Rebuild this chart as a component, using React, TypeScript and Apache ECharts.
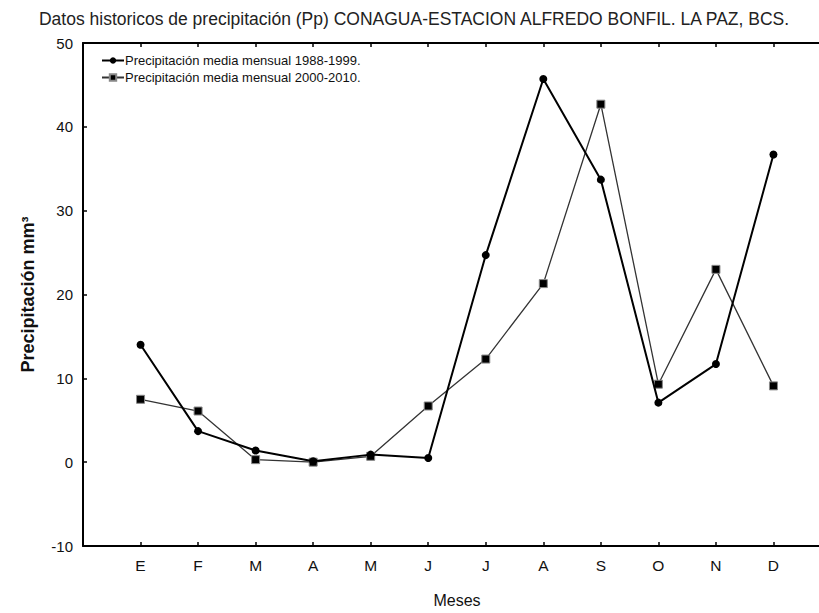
import React, { useEffect, useRef } from "react";
import * as echarts from "echarts";

const months = ["E", "F", "M", "A", "M", "J", "J", "A", "S", "O", "N", "D"];
const pp1988_1999 = [14.0, 3.7, 1.4, 0.1, 0.9, 0.5, 24.7, 45.7, 33.7, 7.1, 11.7, 36.7];
const pp2000_2010 = [7.5, 6.1, 0.3, 0.0, 0.7, 6.7, 12.3, 21.3, 42.7, 9.3, 23.0, 9.1];
const yTicks = { min: -10, max: 50, step: 10 };

const seriesNames = [
  "Precipitación media mensual 1988-1999.",
  "Precipitación media mensual 2000-2010.",
];

const FONT = "'Liberation Sans', Arial, sans-serif";

export default function App() {
  const ref = useRef<HTMLDivElement>(null);

  useEffect(() => {
    if (!ref.current) return;
    const chart = echarts.init(ref.current, null, { renderer: "svg" });

    const monthLabel = (v: number) => {
      const i = Math.round(v) - 1;
      return i >= 0 && i < months.length ? months[i] : "";
    };

    const commonX = {
      type: "value" as const,
      min: 0,
      max: months.length + 1,
      interval: 1,
      splitLine: { show: false },
      axisLine: { show: true, onZero: false, lineStyle: { color: "#000", width: 2 } },
      axisTick: { show: true, inside: true, length: 4, lineStyle: { color: "#000", width: 1.5 } },
    };

    chart.setOption({
      animation: false,
      backgroundColor: "#fff",
      title: {
        text: "Datos historicos de precipitación (Pp) CONAGUA-ESTACION ALFREDO BONFIL. LA PAZ, BCS.",
        left: 409,
        textAlign: "center",
        top: 5,
        textStyle: { fontFamily: FONT, fontSize: 17.5, fontWeight: "normal", color: "#222" },
      },
      legend: {
        orient: "vertical",
        left: 96,
        top: 49,
        itemWidth: 22,
        itemHeight: 8,
        itemGap: 4,
        data: seriesNames,
        textStyle: { fontFamily: FONT, fontSize: 13, color: "#111", padding: [0, 0, 0, -4] },
      },
      grid: {
        left: 83,
        top: 43,
        width: 748,
        height: 503,
        containLabel: false,
        outerBoundsMode: "none",
      },
      xAxis: [
        {
          ...commonX,
          position: "bottom",
          name: "Meses",
          nameLocation: "middle",
          nameGap: 46,
          nameTextStyle: { fontFamily: FONT, fontSize: 16, color: "#111" },
          axisLabel: {
            formatter: monthLabel,
            margin: 11,
            fontFamily: FONT,
            fontSize: 15.5,
            color: "#111",
          },
        },
        {
          ...commonX,
          position: "top",
          axisLabel: { show: false },
        },
      ],
      yAxis: {
        type: "value",
        min: yTicks.min,
        max: yTicks.max,
        interval: yTicks.step,
        name: "Precipitación mm³",
        nameLocation: "middle",
        nameGap: 46,
        nameTextStyle: { fontFamily: FONT, fontSize: 18, fontWeight: "bold", color: "#111" },
        splitLine: { show: false },
        axisLine: { show: true, lineStyle: { color: "#000", width: 2 } },
        axisTick: { show: true, inside: true, length: 4, lineStyle: { color: "#000", width: 1.5 } },
        axisLabel: { fontFamily: FONT, fontSize: 15, color: "#111", margin: 10 },
      },
      series: [
        {
          name: seriesNames[0],
          type: "line",
          data: pp1988_1999.map((v, i) => [i + 1, v]),
          symbol: "circle",
          symbolSize: 8,
          lineStyle: { color: "#000", width: 2 },
          itemStyle: { color: "#000" },
          z: 3,
        },
        {
          name: seriesNames[1],
          type: "line",
          data: pp2000_2010.map((v, i) => [i + 1, v]),
          symbol: "rect",
          symbolSize: 8,
          lineStyle: { color: "#333", width: 1.3 },
          itemStyle: { color: "#000", borderColor: "#888", borderWidth: 1 },
          z: 2,
        },
      ],
    });

    return () => chart.dispose();
  }, []);

  return (
    <div
      ref={ref}
      style={{ position: "fixed", left: 0, top: 0, width: 819, height: 613, background: "#fff" }}
    />
  );
}
